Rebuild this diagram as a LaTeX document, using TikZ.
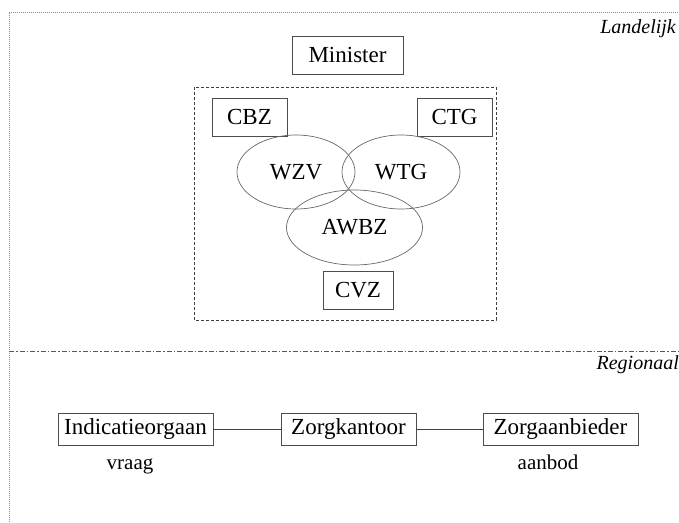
\documentclass[tikz,border=0pt]{standalone}
\usepackage{fontspec}
\setmainfont{Liberation Serif}
\usetikzlibrary{shapes.geometric}
\begin{document}
\begin{tikzpicture}[x=1pt,y=-1pt,
  box/.style={draw=black!70,line width=0.8pt,inner sep=0pt,font=\fontsize{23}{26}\selectfont,minimum height=38pt},
  lowbox/.style={box,minimum height=32pt},
  oval/.style={draw=black!60,line width=0.7pt,ellipse,inner sep=0pt,font=\fontsize{23}{26}\selectfont},
  lbl/.style={inner sep=0pt,font=\fontsize{21}{24}\selectfont,anchor=base},
  region/.style={inner sep=0pt,font=\itshape\fontsize{20}{23}\selectfont,anchor=base east},
  link/.style={draw=black!75,line width=0.8pt}]
\useasboundingbox (0,0) rectangle (679,522);
% frame
\draw[black!45,line width=1pt,dash pattern=on 1pt off 1pt] (9,522) -- (9,12) -- (679,12);
\draw[black!65,line width=0.8pt,dash pattern=on 5pt off 2pt on 1.5pt off 2pt] (9,351) -- (679,351);
% dashed group
\draw[black!75,line width=0.8pt,dash pattern=on 3pt off 2pt] (194,87) rectangle (496,320);
% nodes
\node[box,minimum width=111pt] (min) at (347.5,55) {Minister};
\node[box,minimum width=75pt] (cbz) at (249.5,117) {CBZ};
\node[box,minimum width=75pt] (ctg) at (454.5,117) {CTG};
\node[oval,minimum width=118pt,minimum height=74pt] (wzv) at (296,172) {WZV};
\node[oval,minimum width=118pt,minimum height=74pt] (wtg) at (401,172) {WTG};
\node[oval,minimum width=136pt,minimum height=75pt] (awbz) at (354.5,227.5) {AWBZ};
\node[box,minimum width=70pt] (cvz) at (358,290) {CVZ};
\node[lowbox,minimum width=155pt] (ind) at (135.5,429) {Indicatieorgaan};
\node[lowbox,minimum width=135pt] (zk) at (348.5,429) {Zorgkantoor};
\node[lowbox,minimum width=155pt] (za) at (560.5,429) {Zorgaanbieder};
\draw[link] (ind) -- (zk);
\draw[link] (zk) -- (za);
\node[lbl] (vraag) at (130,469) {vraag};
\node[lbl] (aanbod) at (548,469) {aanbod};
\node[region] (land) at (676,33) {Landelijk};
\node[region] (reg) at (679,369) {Regionaal};
\end{tikzpicture}
\end{document}
